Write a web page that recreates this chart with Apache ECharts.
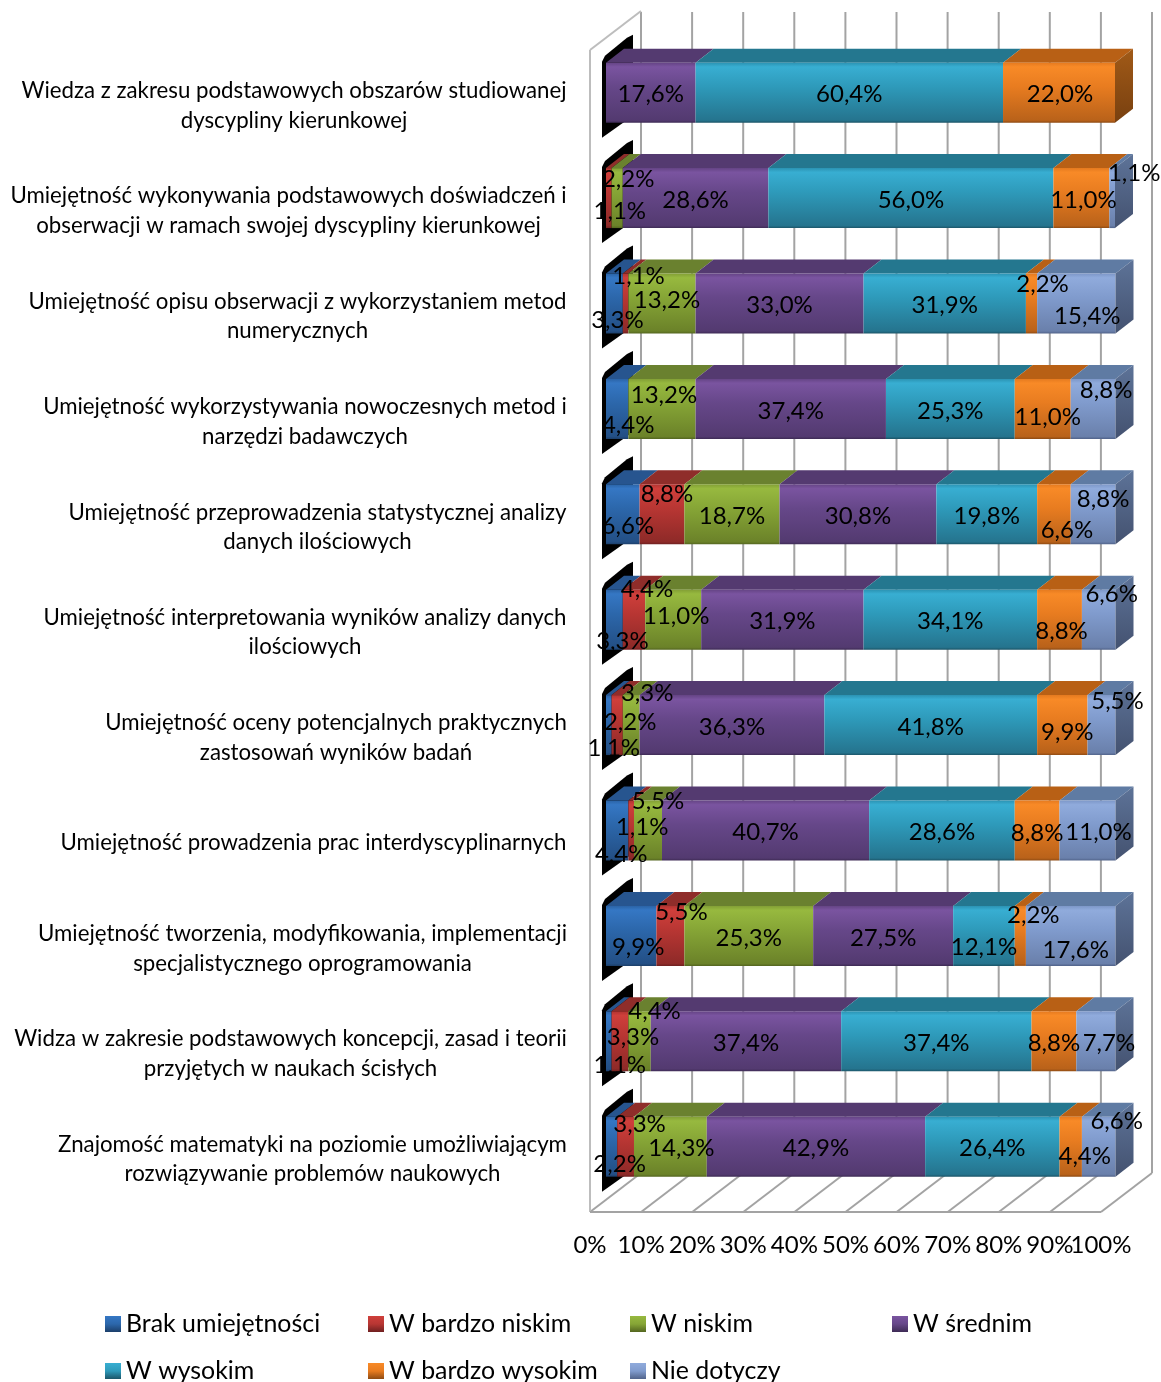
<!DOCTYPE html>
<html><head><meta charset="utf-8">
<style>html,body{margin:0;padding:0;background:#fff}#c{width:1161px;height:1382px}</style>
<script src="https://cdn.jsdelivr.net/npm/echarts@6/dist/echarts.min.js"></script>
</head><body><div id="c"></div>
<script>
const categories = [
 "Wiedza z zakresu podstawowych obszarów studiowanej\ndyscypliny kierunkowej",
 "Umiejętność wykonywania podstawowych doświadczeń i\nobserwacji w ramach swojej dyscypliny kierunkowej",
 "Umiejętność opisu obserwacji z wykorzystaniem metod\nnumerycznych",
 "Umiejętność wykorzystywania nowoczesnych metod i\nnarzędzi badawczych",
 "Umiejętność przeprowadzenia statystycznej analizy\ndanych ilościowych",
 "Umiejętność interpretowania wyników analizy danych\nilościowych",
 "Umiejętność oceny potencjalnych praktycznych\nzastosowań wyników badań",
 "Umiejętność prowadzenia prac interdyscyplinarnych",
 "Umiejętność tworzenia, modyfikowania, implementacji\nspecjalistycznego oprogramowania",
 "Widza w zakresie podstawowych koncepcji, zasad i teorii\nprzyjętych w naukach ścisłych",
 "Znajomość matematyki na poziomie umożliwiającym\nrozwiązywanie problemów naukowych"
];
const seriesNames = ["Brak umiejętności","W bardzo niskim","W niskim","W średnim","W wysokim","W bardzo wysokim","Nie dotyczy"];
const brak     = [0,0,3.3,4.4,6.6,3.3,1.1,4.4,9.9,1.1,2.2];
const bNiskim  = [0,1.1,1.1,0,8.8,4.4,2.2,1.1,5.5,3.3,3.3];
const niskim   = [0,2.2,13.2,13.2,18.7,11.0,3.3,5.5,25.3,4.4,14.3];
const srednim  = [17.6,28.6,33.0,37.4,30.8,31.9,36.3,40.7,27.5,37.4,42.9];
const wysokim  = [60.4,56.0,31.9,25.3,19.8,34.1,41.8,28.6,12.1,37.4,26.4];
const bWysokim = [22.0,11.0,2.2,11.0,6.6,8.8,9.9,8.8,2.2,8.8,4.4];
const nieDot   = [0,1.1,15.4,8.8,8.8,6.6,5.5,11.0,17.6,7.7,6.6];
const values = [brak,bNiskim,niskim,srednim,wysokim,bWysokim,nieDot];
const ticks = [0,10,20,30,40,50,60,70,80,90,100];

// label nudges (px) per row, per series, as the reference placed them by hand
const labelNudge = [
 [[0,0],[0,0],[0,0],[0,0],[0,0],[1,0],[0,0]],
 [[0,0],[11,11],[11,-21],[0,0],[0,0],[2,0],[22,-27]],
 [[3,15],[13,-29],[5,-5],[0,0],[0,0],[11,-21],[11,11]],
 [[11,14],[0,0],[2,-16],[0,0],[0,0],[5,6],[13,-21]],
 [[5,10],[5,-22],[0,0],[0,0],[0,0],[13,14],[10,-17]],
 [[8,20],[13,-32],[3,-5],[0,0],[0,0],[2,10],[13,-27]],
 [[5,21],[13,-5],[16,-34],[0,0],[0,0],[5,5],[16,-26]],
 [[4,22],[11,-5],[10,-31],[0,0],[0,0],[0,1],[11,0]],
 [[7,9],[11,-26],[0,0],[0,0],[0,9],[13,-23],[5,12]],
 [[11,22],[13,-6],[15,-32],[0,0],[0,0],[0,0],[13,0]],
 [[8,16],[14,-24],[11,0],[0,0],[0,0],[14,8],[18,-27]]
];

const FONT = 'Lato';
const FS_CAT = 22.25;
const FS_VAL = 24;
const FS_LEG = 24.9;
const front = [
 ['#2a63a6','#3577c4','#2c67ab','#234f85','#1c3f6a'],
 ['#b23431','#cf3f3b','#b83633','#8e2a28','#6f2020'],
 ['#829f35','#97b93f','#86a536','#6b8229','#546620'],
 ['#654485','#7a54a0','#664789','#533a70','#3e2b55'],
 ['#2b93b3','#38aed2','#2e9aba','#25748e','#1b5568'],
 ['#e57a1f','#f88a27','#e87c20','#b9621a','#8f4b13'],
 ['#7d97c8','#90abdc','#809bcd','#6a80ab','#51638a']
];
const topCol = ['#27558f','#8f2d2a','#6a812f','#543a70','#24778f','#b86015','#5f7ba3'];
const sideCol = [['#2a5a96','#1d3f6a'],['#8f2d2a','#6c2220'],['#6a812f','#4f6122'],['#543a70','#3c2a52'],['#24778f','#195568'],['#a15a17','#784010'],['#5d7398','#445270']];
const legendPos = [[105,1311.5],[368,1311.5],[630,1311.5],[892,1311.5],[105,1358.5],[368,1358.5],[630,1358.5]];

const G = echarts.graphic;
function frontFill(i){const c=front[i];return new G.LinearGradient(0,0,0,1,[
 {offset:0,color:c[0]},{offset:.07,color:c[1]},{offset:.4,color:c[2]},{offset:.96,color:c[3]},{offset:1,color:c[4]}]);}
function legendFill(i){const c=front[i];return new G.LinearGradient(0,0,0,1,[
 {offset:0,color:c[1]},{offset:.5,color:c[2]},{offset:1,color:c[4]}]);}

const DX=18, DY=14, BAR=.569;
function cum(s,r){let t=0;for(let k=0;k<s;k++)t+=values[k][r];return t;}

function renderSeg(i){return function(params,api){
 const r=api.value(1), v=api.value(3);
 if(!v) return null;
 const p0=api.coord([api.value(0),r]), p1=api.coord([api.value(2),r]);
 const h=api.size([0,1])[1]*BAR;
 const x0=p0[0],x1=p1[0],yt=p0[1]-h/2,yb=p0[1]+h/2;
 const kids=[
  {type:'polygon',shape:{points:[[x0,yt],[x1,yt],[x1+DX,yt-DY],[x0+DX,yt-DY]]},style:{fill:topCol[i]}},
  {type:'rect',shape:{x:x0,y:yt,width:x1-x0,height:h},style:{fill:frontFill(i)}}
 ];
 let last=true;for(let k=i+1;k<7;k++) if(values[k][r]>0) last=false;
 if(last) kids.push({type:'polygon',shape:{points:[[x1,yt],[x1+DX,yt-DY],[x1+DX,yb-DY],[x1,yb]]},
   style:{fill:new G.LinearGradient(0,0,0,1,[{offset:0,color:sideCol[i][0]},{offset:1,color:sideCol[i][1]}])}});
 return {type:'group',children:kids};
};}

const segSeries = seriesNames.map((n,i)=>({
 name:n,type:'custom',xAxisIndex:0,yAxisIndex:0,z:3+i,silent:true,
 itemStyle:{color:front[i][2]},
 encode:{x:[0,2],y:1},
 renderItem:renderSeg(i),
 data:categories.map((c,r)=>[cum(i,r),r,cum(i,r)+values[i][r],values[i][r]])
}));

const capSeries={type:'custom',xAxisIndex:0,yAxisIndex:0,z:2,silent:true,encode:{x:0,y:1},
 renderItem(params,api){
  const p=api.coord([0,api.value(1)]);const h=api.size([0,1])[1]*BAR;
  const x=p[0],y=p[1]-h/2;
  return {type:'polygon',shape:{points:[[x-4,y+75],[x-4,y-1],[x-1,y-7],[21+x,y-25],[27+x,y-28],[27+x,y+53]]},style:{fill:'#000'}};
 },
 data:categories.map((c,r)=>[0,r])};

const labelData=[];
values.forEach((arr,i)=>arr.forEach((v,r)=>{if(v>0)labelData.push([cum(i,r)+v/2,r,v,labelNudge[r][i][0],labelNudge[r][i][1]]);}));
const labelSeries={type:'custom',xAxisIndex:0,yAxisIndex:0,z:30,silent:true,encode:{x:0,y:1},
 renderItem(params,api){
  const p=api.coord([api.value(0),api.value(1)]);
  return {type:'text',style:{text:api.value(2).toFixed(1).replace('.',',')+'%',
    x:p[0]+api.value(3),y:p[1]+2+api.value(4),textAlign:'center',textVerticalAlign:'middle',
    fontFamily:FONT,fontSize:FS_VAL,fill:'#000'}};
 },
 data:labelData};

const wallSeries={type:'custom',xAxisIndex:1,yAxisIndex:1,z:1,silent:true,encode:{x:0},
 renderItem(params,api){
  const cs=params.coordSys, t=api.value(0), x=api.coord([t,0])[0];
  const yB=cs.y+cs.height, yT=cs.y-3, bx=51, by=39;
  const s={stroke:'#a3a3a3',lineWidth:2,fill:null};
  const kids=[
   {type:'line',shape:{x1:x+bx,y1:yT-by+1,x2:x+bx,y2:yB-by},style:s},
   {type:'line',shape:{x1:x,y1:yB,x2:x+bx,y2:yB-by},style:s}
  ];
  if(t===0){
   const w={stroke:'#bdbdbd',lineWidth:2,fill:null};
   kids.push({type:'line',shape:{x1:x,y1:yT,x2:x,y2:yB},style:w});
   kids.push({type:'line',shape:{x1:x,y1:yT,x2:x+bx,y2:yT-by},style:w});
   kids.push({type:'line',shape:{x1:x,y1:yB,x2:cs.x+cs.width,y2:yB},style:s});
  }
  return {type:'group',children:kids};
 },
 data:ticks.map(t=>[t])};

// center the lines of each category inside a right-aligned block
const ctx=document.createElement('canvas').getContext('2d');
ctx.font=FS_CAT+'px '+FONT;
const rich={};
categories.forEach((c,i)=>{
 const w=Math.ceil(Math.max(...c.split('\n').map(l=>ctx.measureText(l).width)))+1;
 rich['c'+i]={width:w,align:'center',fontFamily:FONT,fontSize:FS_CAT,lineHeight:29.5,color:'#000'};
});

const tickLabel={margin:21,fontFamily:FONT,fontSize:FS_VAL,color:'#000',formatter:'{value}%'};
const chart=echarts.init(document.getElementById('c'),null,{renderer:'canvas'});
chart.setOption({
 animation:false,backgroundColor:'#fff',
 grid:[
  {left:606,width:509,top:40,height:1159.4},
  {left:590,width:511,top:53,height:1159}
 ],
 xAxis:[
  {gridIndex:0,type:'value',min:0,max:100,show:false,splitLine:{show:false}},
  // 0%..90%: the 100% label overlaps 90% in the reference, and ECharts drops one of them on a single axis
  {gridIndex:1,type:'value',min:0,max:100,interval:10,position:'bottom',
   axisLine:{show:false},axisTick:{show:false},splitLine:{show:false},
   axisLabel:{...tickLabel,showMinLabel:true,showMaxLabel:false}},
  {gridIndex:1,type:'value',min:0,max:100,interval:100,position:'bottom',
   axisLine:{show:false},axisTick:{show:false},splitLine:{show:false},
   axisLabel:{...tickLabel,showMinLabel:false,showMaxLabel:true}}
 ],
 yAxis:[
  {gridIndex:0,type:'category',inverse:true,data:categories,show:false},
  {gridIndex:1,type:'category',inverse:true,data:categories,
   axisLine:{show:false},axisTick:{show:false},splitLine:{show:false},
   axisLabel:{interval:0,margin:22.5,align:'right',rich:rich,
    formatter(v,idx){return v.split('\n').map(l=>'{c'+idx+'|'+l+'}').join('\n');}}}
 ],
 legend:seriesNames.map((n,i)=>({
  data:[{name:n,icon:'rect',itemStyle:{color:legendFill(i)}}],
  left:legendPos[i][0],top:legendPos[i][1],padding:0,itemWidth:16,itemHeight:16,selectedMode:false,
  textStyle:{fontFamily:FONT,fontSize:FS_LEG,color:'#000'}
 })),
 series:[wallSeries,capSeries,...segSeries,labelSeries]
});
</script></body></html>
